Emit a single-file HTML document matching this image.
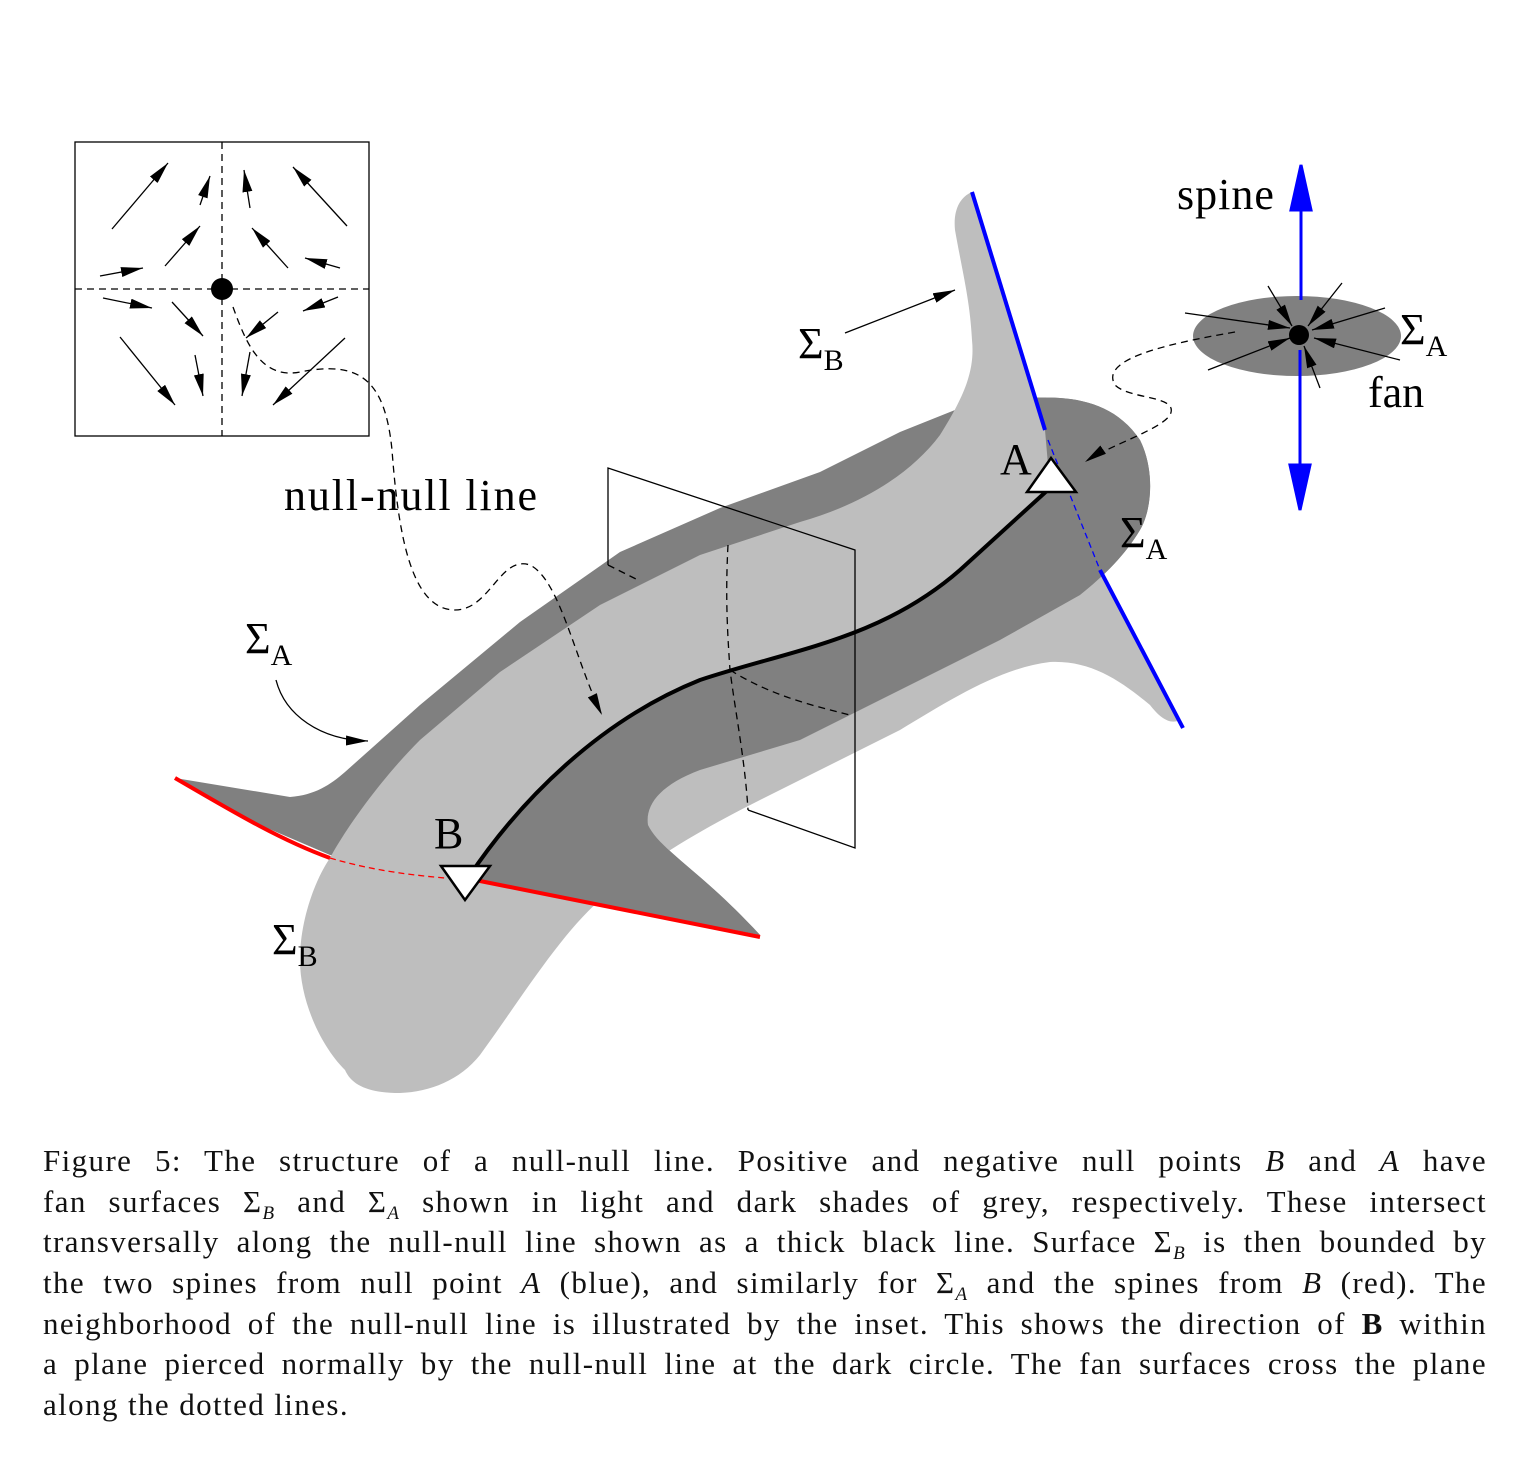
<!DOCTYPE html>
<html><head><meta charset="utf-8"><style>
body{margin:0;background:#fff;width:1516px;height:1459px;overflow:hidden;position:relative}
svg{position:absolute;left:0;top:0}
.cap{position:absolute;left:43px;width:1444px;font-family:"Liberation Serif",serif;font-size:31px;letter-spacing:1.4px;line-height:40.7px;top:1141px;color:#111}
.cap div{text-align:justify;text-align-last:justify;white-space:nowrap;height:40.7px}
.cap div.last{text-align-last:left}
.cap s{text-decoration:none;font-size:19px;font-style:italic;position:relative;top:7px;line-height:0}
</style></head><body>
<svg width="1516" height="1120" viewBox="0 0 1516 1120" font-family="Liberation Serif, serif">
<defs>
<marker id="a2" viewBox="0 0 22 10" refX="22" refY="5" markerWidth="22" markerHeight="10" orient="auto" markerUnits="userSpaceOnUse"><path d="M0,0 L22,5 L0,10 z" fill="#000"/></marker>
</defs>
<path fill="#808080" d="M175,778 L290,797 C315,795 330,785 345,772 L420,705 L520,622 L620,552 L720,508 L820,472 L900,432 L960,408 C990,400 1020,396 1060,398 C1090,400 1120,410 1140,440 C1155,470 1152,510 1140,530 C1125,555 1105,575 1080,595 L1000,640 L900,690 L800,740 L700,770 C660,785 645,805 648,825 C660,850 700,870 760,935 L470,878 L330,855 L260,825 Z"/>
<path fill="#bebebe" d="M972,192 L1045,430 L1100,570 L1180,720 C1170,725 1160,718 1150,705 C1120,680 1090,660 1050,662 C1000,668 950,700 900,730 L760,800 C700,830 650,860 600,900 C560,935 520,1000 480,1055 C460,1080 430,1092 400,1093 C370,1093 352,1086 345,1070 C320,1045 300,1000 300,960 C300,920 315,880 330,858 C345,830 380,780 420,740 L500,672 L600,605 L700,555 L800,522 C860,505 910,475 940,435 C965,395 975,370 972,340 C970,300 962,270 955,230 C953,210 960,197 972,192 Z"/>
<path fill="#808080" d="M468,878 C520,800 600,720 700,680 C790,650 880,640 960,570 L1050,488 L1045,430 L1035,400 C1045,398 1050,397 1060,398 C1090,400 1120,410 1140,440 C1155,470 1152,510 1140,530 C1125,555 1105,575 1080,595 L1000,640 L900,690 L800,740 L700,770 C660,785 645,805 648,825 C660,850 700,870 760,935 Z"/>
<g fill="none" stroke="#000" stroke-width="1.3">
<path d="M608,565 L608,468 L855,550 L855,848 L748,810"/>
<path stroke-dasharray="7,5" d="M608,565 L638,580 M728,545 C725,600 728,640 730,670 C735,710 745,760 748,810 M730,670 C770,695 810,705 850,715"/>
</g>
<g stroke="#0000ff" fill="none">
<path stroke-width="4" d="M972,192 L1045,430"/>
<path stroke-width="1.3" stroke-dasharray="6,4" d="M1048,440 L1100,570"/>
<path stroke-width="4" d="M1100,570 L1183,728"/>
</g>
<g stroke="#ff0000" fill="none">
<path stroke-width="4" d="M175,778 C230,810 280,840 330,858"/>
<path stroke-width="1.3" stroke-dasharray="6,4" d="M330,858 C370,870 410,875 445,878"/>
<path stroke-width="4" d="M465,878 L760,937"/>
</g>
<path fill="none" stroke="#000" stroke-width="4" d="M468,878 C520,800 600,720 700,680 C790,650 880,640 960,570 L1050,488"/>
<path d="M1027,492 L1076,492 L1051,458 Z" fill="#fff" stroke="#000" stroke-width="2.5"/>
<path d="M441,866 L490,866 L465,900 Z" fill="#fff" stroke="#000" stroke-width="2.5"/>
<g stroke="#000" fill="none" stroke-width="1.3">
<rect x="75" y="142" width="294" height="294"/>
<path stroke-dasharray="7,5" d="M222,142 L222,436 M75,289 L369,289"/>
</g>
<circle cx="222" cy="289" r="11" fill="#000"/>
<g stroke="#000" stroke-width="1.3" marker-end="url(#a2)">
<line x1="112" y1="229" x2="168" y2="163"/><line x1="200" y1="205" x2="210" y2="176"/>
<line x1="250" y1="208" x2="244" y2="170"/><line x1="347" y1="226" x2="293" y2="167"/>
<line x1="165" y1="266" x2="200" y2="226"/><line x1="288" y1="268" x2="252" y2="228"/>
<line x1="100" y1="276" x2="143" y2="268"/><line x1="340" y1="268" x2="305" y2="258"/>
<line x1="103" y1="298" x2="152" y2="308"/><line x1="338" y1="297" x2="303" y2="311"/>
<line x1="172" y1="302" x2="203" y2="336"/><line x1="278" y1="312" x2="246" y2="338"/>
<line x1="120" y1="337" x2="175" y2="405"/><line x1="195" y1="355" x2="203" y2="396"/>
<line x1="250" y1="352" x2="242" y2="396"/><line x1="345" y1="338" x2="273" y2="405"/>
</g>
<path fill="none" stroke="#000" stroke-width="1.3" stroke-dasharray="7,5" marker-end="url(#a2)" d="M233,307 C245,340 260,380 300,372 C360,360 385,380 392,450 C398,530 410,610 455,610 C490,610 500,555 530,565 C560,580 575,660 602,715"/>
<ellipse cx="1297" cy="336" rx="104" ry="40" fill="#808080"/>
<g stroke="#0000ff" stroke-width="3" fill="#0000ff">
<line x1="1301" y1="300" x2="1301" y2="200"/><path d="M1291,210 L1301,165 L1311,210 Z"/>
<line x1="1300" y1="350" x2="1300" y2="470"/><path d="M1290,465 L1300,510 L1310,465 Z"/>
</g>
<g stroke="#000" stroke-width="1.3" marker-end="url(#a2)">
<line x1="1185" y1="313" x2="1290" y2="328"/><line x1="1208" y1="370" x2="1290" y2="338"/>
<line x1="1268" y1="286" x2="1292" y2="326"/><line x1="1342" y1="283" x2="1308" y2="326"/>
<line x1="1385" y1="308" x2="1312" y2="330"/><line x1="1400" y1="360" x2="1314" y2="338"/>
<line x1="1320" y1="388" x2="1304" y2="346"/>
</g>
<circle cx="1299" cy="335" r="10" fill="#000"/>
<path fill="none" stroke="#000" stroke-width="1.3" stroke-dasharray="7,5" marker-end="url(#a2)" d="M1235,332 C1160,345 1100,360 1115,385 C1130,400 1180,395 1170,415 C1160,430 1110,445 1085,462"/>
<line x1="845" y1="333" x2="955" y2="290" stroke="#000" stroke-width="1.3" marker-end="url(#a2)"/>
<path fill="none" stroke="#000" stroke-width="1.3" marker-end="url(#a2)" d="M276,680 C285,715 320,740 368,741"/>
<g font-size="44" fill="#000">
<text x="1177" y="209" letter-spacing="1">spine</text>
<text x="1368" y="407">fan</text>
<text x="284" y="510" textLength="253" lengthAdjust="spacing">null-null line</text>
<text x="1000" y="474">A</text>
<text x="434" y="848">B</text>
<text x="1400" y="344">Σ<tspan font-size="30" dy="12">A</tspan></text>
<text x="798" y="358">Σ<tspan font-size="30" dy="12">B</tspan></text>
<text x="1120" y="547">Σ<tspan font-size="30" dy="12">A</tspan></text>
<text x="245" y="653">Σ<tspan font-size="30" dy="12">A</tspan></text>
<text x="272" y="954">Σ<tspan font-size="30" dy="12">B</tspan></text>
</g>
</svg>
<div class="cap">
<div>Figure 5: The structure of a null-null line. Positive and negative null points <i>B</i> and <i>A</i> have</div>
<div>fan surfaces Σ<s>B</s> and Σ<s>A</s> shown in light and dark shades of grey, respectively. These intersect</div>
<div>transversally along the null-null line shown as a thick black line. Surface Σ<s>B</s> is then bounded by</div>
<div>the two spines from null point <i>A</i> (blue), and similarly for Σ<s>A</s> and the spines from <i>B</i> (red). The</div>
<div>neighborhood of the null-null line is illustrated by the inset. This shows the direction of <b>B</b> within</div>
<div>a plane pierced normally by the null-null line at the dark circle. The fan surfaces cross the plane</div>
<div class="last">along the dotted lines.</div>
</div>
</body></html>
